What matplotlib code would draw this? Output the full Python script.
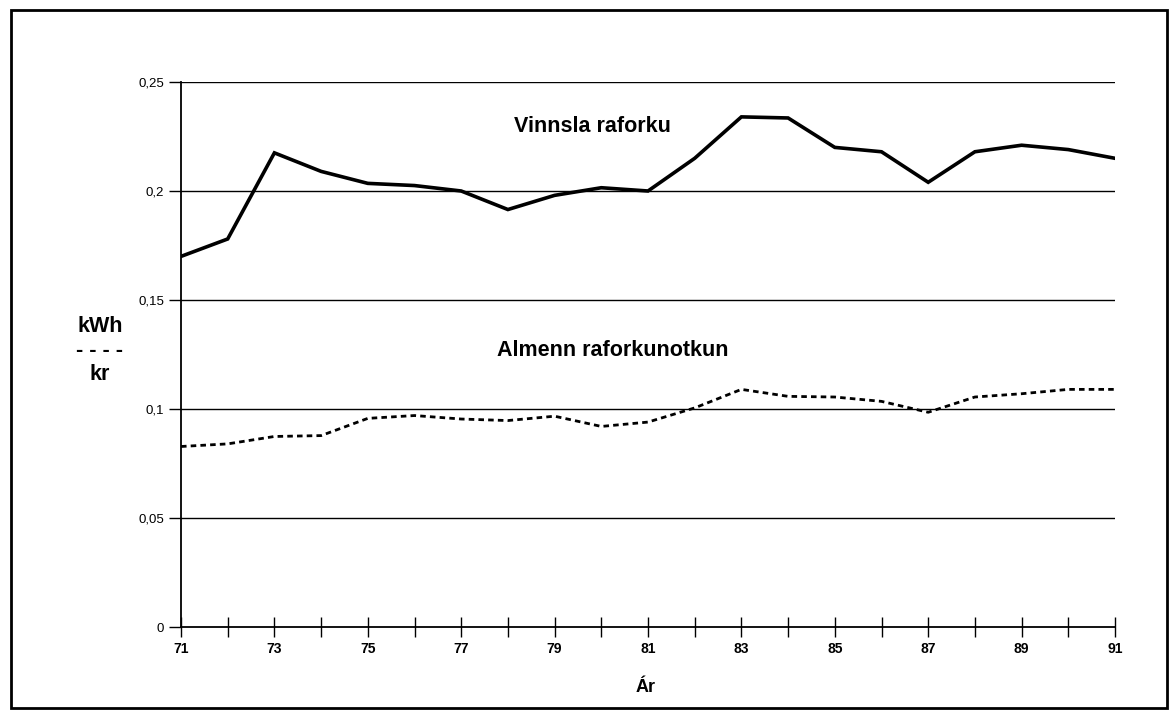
import matplotlib
matplotlib.use("Agg")
import matplotlib.pyplot as plt
from matplotlib.patches import Rectangle

plt.rcParams['font.family'] = ['Liberation Sans', 'DejaVu Sans']

# data
years = list(range(71, 92))
vinnsla = [0.170, 0.178, 0.2175, 0.209, 0.2035, 0.2025, 0.200, 0.1915, 0.198, 0.2015,
           0.200, 0.215, 0.234, 0.2335, 0.220, 0.218, 0.204, 0.218, 0.221, 0.219, 0.215]
almenn = [0.0828, 0.084, 0.0874, 0.0878, 0.0957, 0.097, 0.0954, 0.0947, 0.0967, 0.092,
          0.094, 0.1005, 0.109, 0.1058, 0.1055, 0.1035, 0.0985, 0.1055, 0.107, 0.109, 0.109]
yticks = [0, 0.05, 0.1, 0.15, 0.2, 0.25]
ytick_labels = ['0', '0,05', '0,1', '0,15', '0,2', '0,25']
xtick_labels = [str(y) if y % 2 == 1 else '' for y in years]

W, H = 1170, 713
fig = plt.figure(figsize=(W / 100, H / 100), dpi=100)
ax = fig.add_axes([181 / W, 1 - 627 / H, (1115 - 181) / W, (627 - 82) / H])

# outer frame
fig.patches.append(Rectangle((11 / W, 1 - 708 / H), (1167 - 11) / W, (708 - 10) / H,
                             transform=fig.transFigure, fill=False,
                             edgecolor='black', linewidth=2.0))

# gridlines
for v in yticks[1:]:
    ax.axhline(v, color='black', linewidth=1.0, zorder=1)

ax.plot(years, vinnsla, color='black', linewidth=2.6, solid_joinstyle='miter', zorder=3)
ax.plot(years, almenn, color='black', linewidth=2.0, linestyle=(0, (2, 1.5)),
        dash_capstyle='butt', zorder=3)

ax.set_xlim(71, 91)
ax.set_ylim(0, 0.25)
ax.set_xticks(years)
ax.set_xticklabels(xtick_labels, fontsize=10, fontweight='bold')
ax.set_yticks(yticks)
ax.set_yticklabels(ytick_labels, fontsize=9.5)
ax.tick_params(axis='x', direction='inout', length=14, width=1.0, pad=4)
ax.tick_params(axis='y', direction='out', length=9, width=1.0, pad=3)

for s in ['top', 'right']:
    ax.spines[s].set_visible(False)
for s in ['left', 'bottom']:
    ax.spines[s].set_linewidth(1.3)

ax.text(79.82, 0.2294, 'Vinnsla raforku', fontsize=15.5, fontweight='bold',
        ha='center', va='center')
ax.text(80.25, 0.127, 'Almenn raforkunotkun', fontsize=15.5, fontweight='bold',
        ha='center', va='center')

fig.text(100 / W, 1 - 327 / H, 'kWh', fontsize=15.5, fontweight='bold', ha='center', va='center')
fig.text(100 / W, 1 - 351 / H, '- - - -', fontsize=15.5, fontweight='bold', ha='center', va='center')
fig.text(100 / W, 1 - 375 / H, 'kr', fontsize=15.5, fontweight='bold', ha='center', va='center')
fig.text(646 / W, 1 - 688 / H, 'Ár', fontsize=13, fontweight='bold', ha='center', va='center')

fig.savefig('out.png', dpi=100)
